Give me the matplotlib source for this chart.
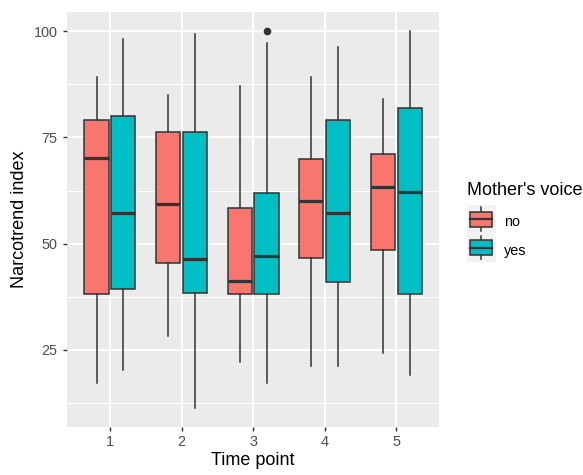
import matplotlib

matplotlib.use("Agg")
import matplotlib.pyplot as plt
from matplotlib.patches import Rectangle

plt.rcParams["font.family"] = ["Liberation Sans", "DejaVu Sans"]

# box statistics, per time point
time_points = [1, 2, 3, 4, 5]
groups = ["no", "yes"]
colors = {"no": "#F8766D", "yes": "#00BFC4"}

stats = {
    "no": {
        "whislo": [17.2, 28.3, 22.2, 21.2, 24.2],
        "q1": [38.2, 45.5, 38.2, 46.7, 48.5],
        "med": [70.1, 59.3, 41.2, 60.1, 63.3],
        "q3": [79.1, 76.4, 58.5, 69.9, 71.1],
        "whishi": [89.2, 85.1, 87.2, 89.2, 84.1],
        "fliers": [[], [], [], [], []],
    },
    "yes": {
        "whislo": [20.4, 11.3, 17.2, 21.2, 19.2],
        "q1": [39.3, 38.5, 38.2, 41.1, 38.2],
        "med": [57.2, 46.3, 47.2, 57.2, 62.2],
        "q3": [80.0, 76.4, 62.0, 79.1, 82.0],
        "whishi": [98.1, 99.3, 97.2, 96.3, 100.0],
        "fliers": [[], [], [100.0], [], []],
    },
}

W, H = 583, 475
fig = plt.figure(figsize=(W / 100, H / 100), dpi=100)
ax = fig.add_axes([67 / W, 1 - 427.3 / H, (439.3 - 67) / W, (427.3 - 11.7) / H])
ax.set_facecolor("#EBEBEB")
for s in ax.spines.values():
    s.set_visible(False)

dark = "#333333"
offsets = {"no": -0.1875, "yes": 0.1875}
for g in groups:
    d = stats[g]
    bxp_stats = [
        {
            "whislo": d["whislo"][i],
            "q1": d["q1"][i],
            "med": d["med"][i],
            "q3": d["q3"][i],
            "whishi": d["whishi"][i],
            "fliers": d["fliers"][i],
        }
        for i in range(len(time_points))
    ]
    ax.bxp(
        bxp_stats,
        positions=[t + offsets[g] for t in time_points],
        widths=0.3375,
        patch_artist=True,
        showcaps=False,
        boxprops=dict(facecolor=colors[g], edgecolor=dark, linewidth=1.1),
        whiskerprops=dict(color=dark, linewidth=1.1),
        medianprops=dict(color=dark, linewidth=2.3, solid_capstyle="butt"),
        flierprops=dict(marker="o", markerfacecolor=dark, markeredgecolor=dark,
                        markersize=4.5),
        manage_ticks=False,
        zorder=3,
    )

ax.set_xlim(0.4, 5.6)
ax.set_ylim(6.8, 104.6)
ax.set_xticks(time_points)
ax.set_xticklabels([str(t) for t in time_points])
ax.set_yticks([25, 50, 75, 100])
ax.set_yticks([12.5, 37.5, 62.5, 87.5], minor=True)
ax.grid(which="major", color="white", linewidth=1.4, zorder=0)
ax.grid(which="minor", axis="y", color="white", linewidth=0.7, zorder=0)
ax.set_axisbelow(True)
ax.tick_params(which="major", length=2.9, width=1.0, color=dark,
               labelcolor="#4D4D4D", labelsize=10.4)
ax.tick_params(axis="y", pad=4)
ax.tick_params(axis="x", pad=3)
ax.tick_params(which="minor", length=0)

fig.text(20 / W, 1 - 219.5 / H, "Narcotrend index", rotation=90,
         ha="center", va="center", fontsize=13)
fig.text(253.2 / W, 1 - 465 / H, "Time point", ha="center", va="baseline",
         fontsize=13)

# legend drawn by hand in ggplot style
fig.text(466.7 / W, 1 - 195 / H, "Mother's voice", ha="left", va="baseline",
         fontsize=13)
lax = fig.add_axes([466.7 / W, 1 - 261.7 / H, 29 / W, 56.7 / H])
lax.set_xlim(0, 1)
lax.set_ylim(0, 2)
lax.axis("off")
lax.add_patch(Rectangle((0, 0), 1, 2, facecolor="#F2F2F2", edgecolor="none"))
for k, g in enumerate(groups):
    base = 1 - k
    lax.plot([0.5, 0.5], [base + 0.08, base + 0.92], color=dark, lw=1.1)
    lax.add_patch(Rectangle((0.13, base + 0.24), 0.74, 0.52, facecolor=colors[g],
                            edgecolor=dark, lw=1.1, zorder=3))
    lax.plot([0.13, 0.87], [base + 0.5, base + 0.5], color=dark, lw=1.6, zorder=4)
    fig.text(504.3 / W, 1 - (222 + 28.7 * k) / H, g, ha="left", va="center",
             fontsize=10.4)

fig.savefig("out.png", dpi=100, facecolor="white")
